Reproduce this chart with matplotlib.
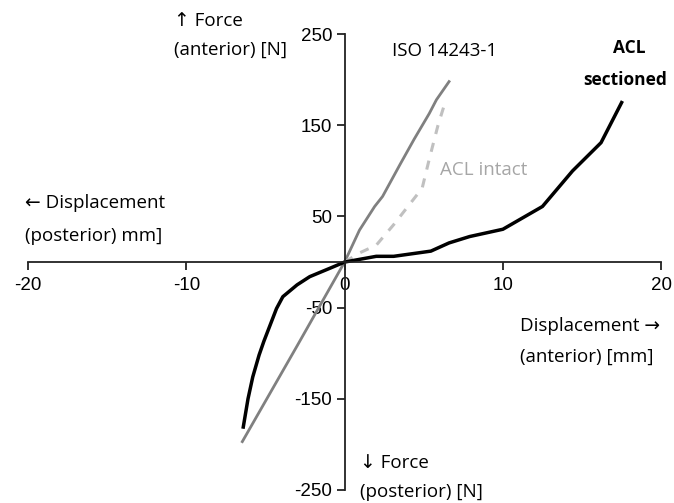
import numpy as np
import matplotlib.pyplot as plt

plt.rcParams['font.family'] = ['Open Sans', 'DejaVu Sans']

# ISO 14243-1 reference line
iso_x = [-6.46, -3.0, 0, 0.94, 1.9, 2.4, 3.5, 4.4, 5.35, 5.8, 6.6]
iso_y = [-197, -92, 0, 35, 61, 72, 107, 135, 163, 178, 198]

# ACL intact (dashed)
intact_x = [0, 0.94, 2.0, 3.1, 4.0, 4.9, 5.35, 5.9, 6.4]
intact_y = [0, 10, 18.5, 41, 61, 81, 113, 150, 178]

# ACL sectioned
sect_x = [-6.4, -6.1, -5.8, -5.4, -5.1, -4.7, -4.3, -3.9, -3.0, -2.2, -0.9, 0,
          2.0, 3.1, 5.45, 6.6, 7.9, 10.0, 12.5, 14.4, 16.2, 17.5]
sect_y = [-181, -150, -126, -102, -87, -69, -51, -38, -25, -16, -6.6, 0,
          6.3, 6.3, 12, 21, 28, 36, 61, 100, 131, 175]

xticks = [-20, -10, 0, 10, 20]
yticks = [-250, -150, -50, 50, 150, 250]

fig = plt.figure(figsize=(6.74, 5.03), dpi=100)
ax = fig.add_axes([0.0415, 0.026, 0.9395, 0.906])

ax.plot(iso_x, iso_y, color='#808080', lw=2)
ax.plot(intact_x, intact_y, color='#c0c0c0', lw=2.2, ls=(0, (3, 3)))
ax.plot(sect_x, sect_y, color='black', lw=2.5)

ax.set_xlim(-20, 20)
ax.set_ylim(-250, 250)
ax.spines['left'].set_position(('data', 0))
ax.spines['bottom'].set_position(('data', 0))
ax.spines['top'].set_visible(False)
ax.spines['right'].set_visible(False)
for s in ['left', 'bottom']:
    ax.spines[s].set_linewidth(1.3)
    ax.spines[s].set_color('#222222')

ax.set_xticks(xticks)
ax.set_xticklabels([str(v) for v in xticks])
ax.set_yticks(yticks)
ax.set_yticklabels([str(v) for v in yticks])
ax.tick_params(axis='both', direction='out', length=6, width=1.3,
               color='#222222', labelsize=13.5)
ax.tick_params(axis='x', pad=5)
ax.tick_params(axis='y', pad=3)
for t in ax.get_xticklabels() + ax.get_yticklabels():
    t.set_clip_on(False)
    t.set_family(['Liberation Sans', 'DejaVu Sans'])

fs = 13.5
ax.text(-10.8, 265, '↑ Force', fontsize=fs, va='center', ha='left')
ax.text(-10.8, 233, '(anterior) [N]', fontsize=fs, va='center', ha='left')
ax.text(3.0, 232, 'ISO 14243-1', fontsize=fs, va='center', ha='left')
ax.text(18.0, 235, 'ACL', fontsize=12.5, va='center', ha='center', fontweight='bold')
ax.text(17.7, 200, 'sectioned', fontsize=12.5, va='center', ha='center', fontweight='bold')
ax.text(6.05, 101, 'ACL intact', fontsize=fs, va='center', ha='left', color='#a6a6a6')
ax.text(-20.2, 65, '← Displacement', fontsize=fs, va='center', ha='left')
ax.text(-20.2, 28.5, '(posterior) mm]', fontsize=fs, va='center', ha='left')
ax.text(11.05, -70, 'Displacement →', fontsize=fs, va='center', ha='left')
ax.text(11.05, -104, '(anterior) [mm]', fontsize=fs, va='center', ha='left')
ax.text(0.95, -221, '↓ Force', fontsize=fs, va='center', ha='left')
ax.text(0.95, -252, '(posterior) [N]', fontsize=fs, va='center', ha='left')

fig.savefig('out.png', dpi=100)
